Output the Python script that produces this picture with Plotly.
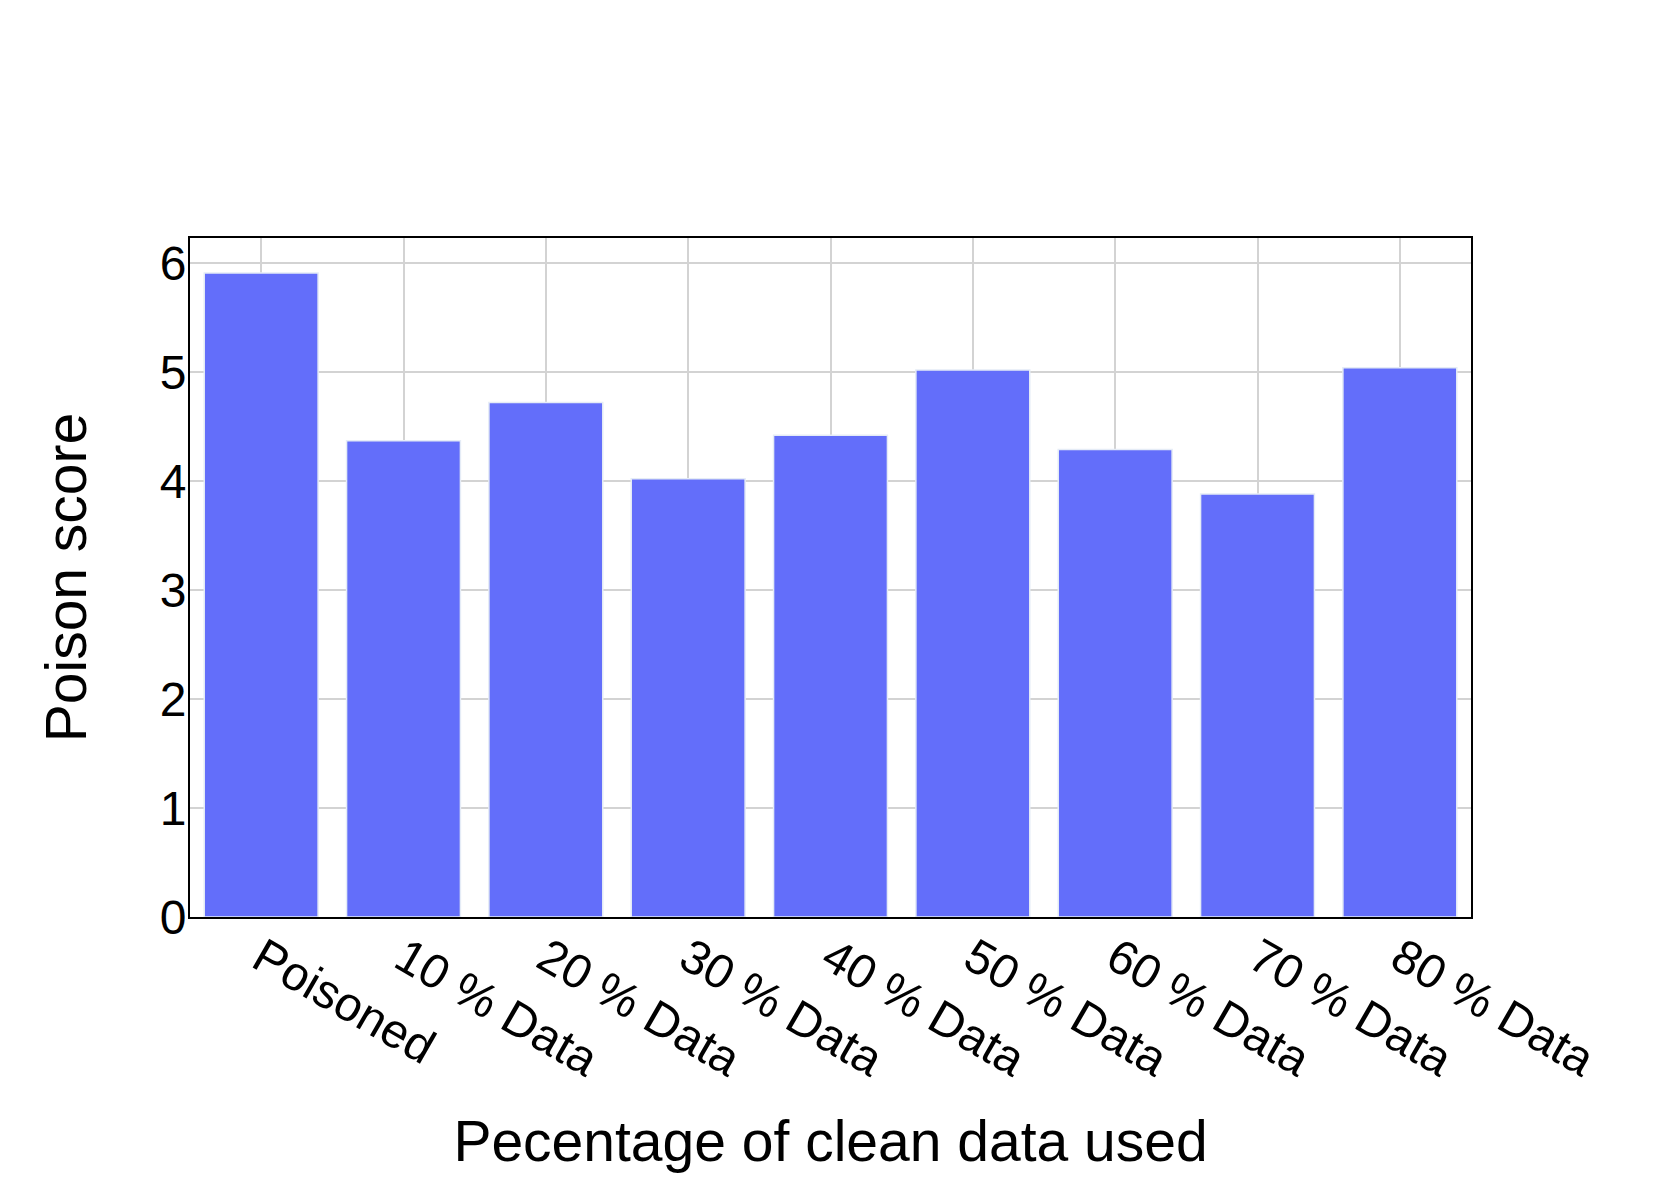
import plotly.graph_objects as go

categories = ["Poisoned", "10 % Data", "20 % Data", "30 % Data", "40 % Data",
              "50 % Data", "60 % Data", "70 % Data", "80 % Data"]
poison_score = [5.91, 4.37, 4.72, 4.02, 4.42, 5.02, 4.29, 3.88, 5.04]

fig = go.Figure()
fig.add_trace(go.Bar(
    x=categories, y=poison_score,
    marker=dict(color="#636EFA", line=dict(color="#E5ECF6", width=1.5)),
))

axis_style = dict(
    showline=True, linecolor="black", linewidth=2, mirror=True,
    showgrid=True, gridcolor="lightgray", gridwidth=2,
    ticks="", zeroline=False,
    tickfont=dict(size=48, color="black"),
    title_font=dict(size=57, color="black"),
)

fig.update_layout(
    width=1661, height=1187,
    margin=dict(l=182, r=198, t=230, b=278),
    plot_bgcolor="white", paper_bgcolor="white",
    font=dict(family="Liberation Sans, Arial, sans-serif", color="black"),
    bargap=0.2,
    showlegend=False,
    xaxis=dict(axis_style, title_text="Pecentage of clean data used", tickangle=30,
               ticklabelstandoff=-8, title_standoff=36),
    yaxis=dict(axis_style, title_text="Poison score", range=[0, 6.23], dtick=1,
               ticklabelstandoff=-8, title_standoff=55),
)

fig.write_html("out.html")
